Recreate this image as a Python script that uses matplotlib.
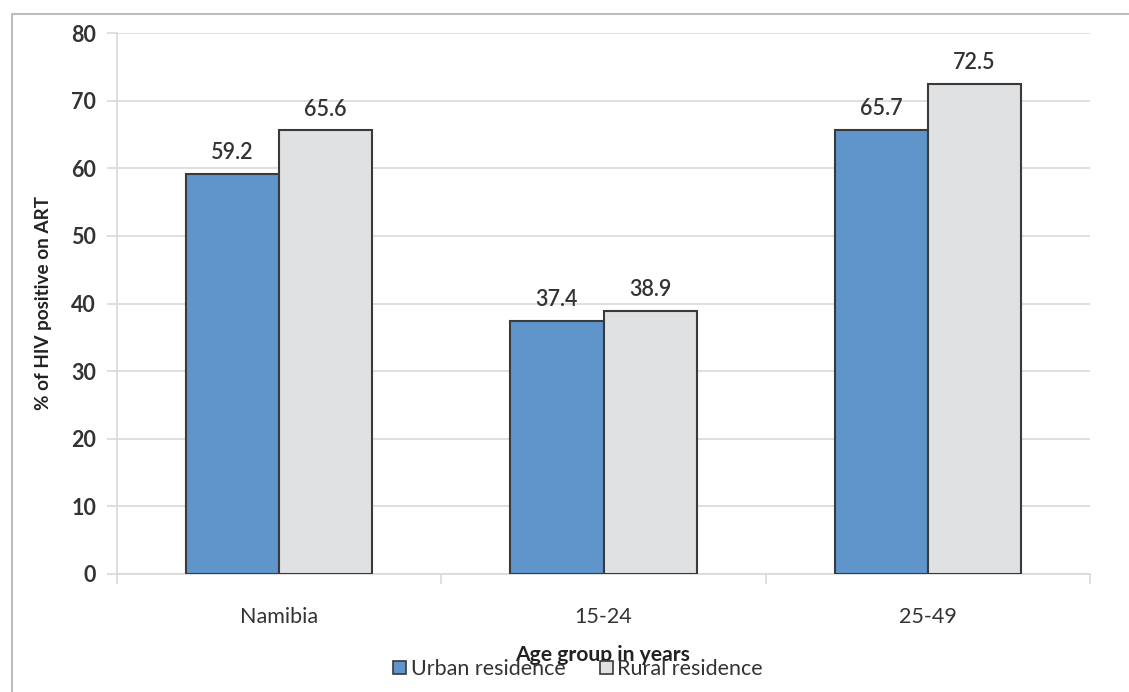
import numpy as np
import matplotlib.pyplot as plt
from matplotlib.patches import Patch, Rectangle

plt.rcParams['font.family'] = ['Lato', 'DejaVu Sans']

groups = ['Namibia', '15-24', '25-49']
urban = [59.2, 37.4, 65.7]
rural = [65.6, 38.9, 72.5]
series_names = ['Urban residence', 'Rural residence']

blue = '#5f95ca'
grey = '#e0e1e3'
edge = '#3a3a3a'
text_col = '#333333'
light = '#d9d9d9'

fig = plt.figure(figsize=(11.29, 6.92), dpi=100)
ax = fig.add_axes([117 / 1129, 1 - 574 / 692, 973 / 1129, 541 / 692])

# outer chart frame (runs off the right and bottom)
fig.patches.append(Rectangle((12 / 1129, -0.05), 1.2, 1 - 14 / 692 + 0.05,
                             transform=fig.transFigure, fill=False,
                             edgecolor='#bdbdbd', linewidth=1.5))

ind = np.arange(len(groups))
width = 0.287

bars_u = ax.bar(ind - width / 2, urban, width, color=blue, edgecolor=edge, linewidth=1.5, zorder=3)
bars_r = ax.bar(ind + width / 2, rural, width, color=grey, edgecolor=edge, linewidth=1.5, zorder=3)

def autolabel(rects):
    for rect in rects:
        h = rect.get_height()
        ax.text(rect.get_x() + rect.get_width() / 2., h + 1.6, '%.1f' % h,
                ha='center', va='bottom', fontsize=15.5, color=text_col, fontweight='semibold')

autolabel(bars_u)
autolabel(bars_r)

ax.set_xlim(-0.5, 2.5)
ax.set_ylim(0, 80)
ax.set_yticks(np.arange(0, 81, 10))
ax.yaxis.grid(True, color=light, linewidth=1.2, zorder=0)
ax.set_axisbelow(True)

ax.set_xticks(ind)
ax.set_xticklabels(groups, fontsize=15.5, color=text_col)
ax.set_xticks([-0.5, 0.5, 1.5, 2.5], minor=True)
ax.tick_params(axis='x', which='major', length=0, pad=24)
ax.tick_params(axis='x', which='minor', length=7, color=light, width=1.2)
ax.tick_params(axis='y', length=7, color=light, width=1.2, pad=8, labelsize=15.5, labelcolor=text_col)
for lab in ax.get_yticklabels():
    lab.set_fontweight('bold')

for s in ['top', 'right']:
    ax.spines[s].set_visible(False)
for s in ['left', 'bottom']:
    ax.spines[s].set_color(light)
    ax.spines[s].set_linewidth(1.2)

ax.set_ylabel('% of HIV positive on ART', fontsize=13.6, fontweight='bold', color='#222222', labelpad=14)
fig.text(603 / 1129, 1 - 655 / 692, 'Age group in years', ha='center', va='center',
         fontsize=15.2, fontweight='bold', color='#222222')

handles = [Patch(facecolor=blue, edgecolor=edge, linewidth=1.2),
           Patch(facecolor=grey, edgecolor=edge, linewidth=1.2)]
fig.legend(handles, series_names, loc='center', bbox_to_anchor=(578 / 1129, 1 - 669 / 692),
           ncol=2, frameon=False, fontsize=15.5, handlelength=0.6, handleheight=0.6,
           handletextpad=0.2, columnspacing=1.6, labelcolor=text_col)

fig.savefig('out.png', dpi=100)
